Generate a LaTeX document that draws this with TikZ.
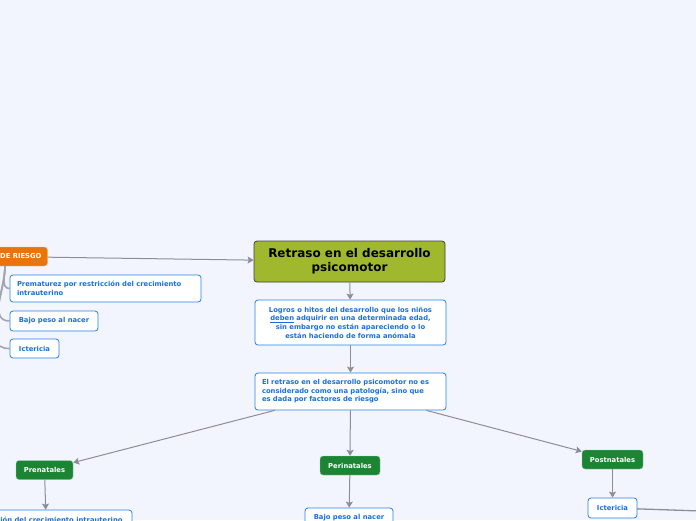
\documentclass[tikz,border=0pt]{standalone}
\usepackage{fontspec}
\setmainfont{DejaVu Sans}
\usepackage{xcolor}
\usetikzlibrary{arrows.meta}
\definecolor{bgLavender}{RGB}{242,245,254}
\definecolor{oliveMain}{RGB}{160,184,46}
\definecolor{blueText}{RGB}{27,112,218}
\definecolor{blueBorder}{RGB}{38,128,232}
\definecolor{greenGroup}{RGB}{28,133,52}
\definecolor{orangeRisk}{RGB}{234,116,12}
\definecolor{grayLine}{RGB}{140,141,152}
\begin{document}
\begin{tikzpicture}
[x=1pt,y=-1pt,
    mainDecorate/.style={shape=rectangle,rounded corners=3pt,draw=black!75,fill=oliveMain,thick,minimum width=191pt,minimum height=41pt,inner sep=0pt,align=center,font=\fontsize{12}{14}\selectfont\bfseries},%
    textDecorate/.style={shape=rectangle,rounded corners=3pt,draw=blueBorder,fill=white,thick,text=blueText,inner sep=0pt,font=\fontsize{6.8}{8.6}\selectfont\bfseries},%
    groupDecorate/.style={shape=rectangle,rounded corners=3pt,draw=white!55!greenGroup,fill=greenGroup,text=white,inner sep=0pt,minimum height=19pt,font=\fontsize{6.8}{8}\selectfont\bfseries},%
    riskDecorate/.style={shape=rectangle,rounded corners=3pt,draw=white!55!orangeRisk,fill=orangeRisk,text=white,inner sep=0pt,font=\fontsize{6.8}{8}\selectfont\bfseries},%
    lineDecorate/.style={draw=grayLine,>={Stealth[length=6pt,width=7pt,inset=1.2pt]},line width=1pt},%
    branchDecorate/.style={draw=grayLine!80,line width=1.6pt}]
    \useasboundingbox (0,0) rectangle (696,520);
    \clip (0,0) rectangle (696,520);
    \fill[bgLavender] (0,0) rectangle (696,520);
    %% central column
    \node (retrasoPsico) at (349.5,261.5) [mainDecorate] {Retraso en el desarrollo\\psicomotor};
    \node (logrosHitos) at (350.5,322.5) [textDecorate,minimum width=191pt,minimum height=45pt,align=center] {Logros o hitos del desarrollo que los niños\\\underline{deben} adquirir en una determinada edad,\\sin embargo no están apareciendo o lo\\están haciendo de forma anómala};
    \node (retrasoFactores) at (350.5,391.5) [textDecorate,minimum height=37pt,text width=177pt,inner xsep=7pt,align=left] {El retraso en el desarrollo psicomotor no es\\considerado como una patología, sino que\\es dada por factores de riesgo};
    %% groups
    \foreach \nodename/\x/\y/\w/\txt in {prenatales/44.5/470/57/Prenatales, perinatales/350/465.5/60/Perinatales, postnatales/612.5/459.5/61/Postnatales}
    {
        \node (\nodename) at (\x,\y) [groupDecorate,minimum width=\w pt] {\txt};
    }
    \node (restriccion) at (46,520) [textDecorate,minimum width=172pt,minimum height=20pt] {Restricción del crecimiento intrauterino};
    \node (bajoPeso) at (349,518) [textDecorate,minimum width=88pt,minimum height=20pt] {Bajo peso al nacer};
    \node (ictericiaPost) at (612.5,508) [textDecorate,minimum width=49pt,minimum height=20pt] {Ictericia};
    \coordinate (offRight) at (760,513);
    %% risk factors
    \node (factores) at (0,256.5) [riskDecorate,minimum width=95pt,minimum height=19pt] {FACTORES DE RIESGO};
    \node (prematurez) at (105.5,288.5) [textDecorate,minimum height=27pt,text width=177pt,inner xsep=7pt,align=left] {Prematurez por restricción del crecimiento\\intrauterino};
    \node (bajoPesoRiesgo) at (54,321) [textDecorate,minimum width=88pt,minimum height=20pt] {Bajo peso al nacer};
    \node (ictericiaRiesgo) at (34.5,348.5) [textDecorate,minimum width=49pt,minimum height=19pt] {Ictericia};
    %% edges or lines
    \path\foreach \startnode/\endnode in {factores/retrasoPsico, retrasoPsico/logrosHitos, logrosHitos/retrasoFactores, retrasoFactores.-166/prenatales, retrasoFactores/perinatales, retrasoFactores.-14/postnatales, prenatales/restriccion, perinatales/bajoPeso, postnatales/ictericiaPost}
    {
        (\startnode) edge[lineDecorate,->] (\endnode)
    };
    \draw[lineDecorate,line width=1.3pt] (ictericiaPost) -- (offRight);
    \path\foreach \endnode in {prematurez, bajoPesoRiesgo, ictericiaRiesgo}
    {
        ([xshift=5pt]factores.south) edge[branchDecorate,out=-90,in=180] (\endnode.west)
    };
\end{tikzpicture}
\end{document}
